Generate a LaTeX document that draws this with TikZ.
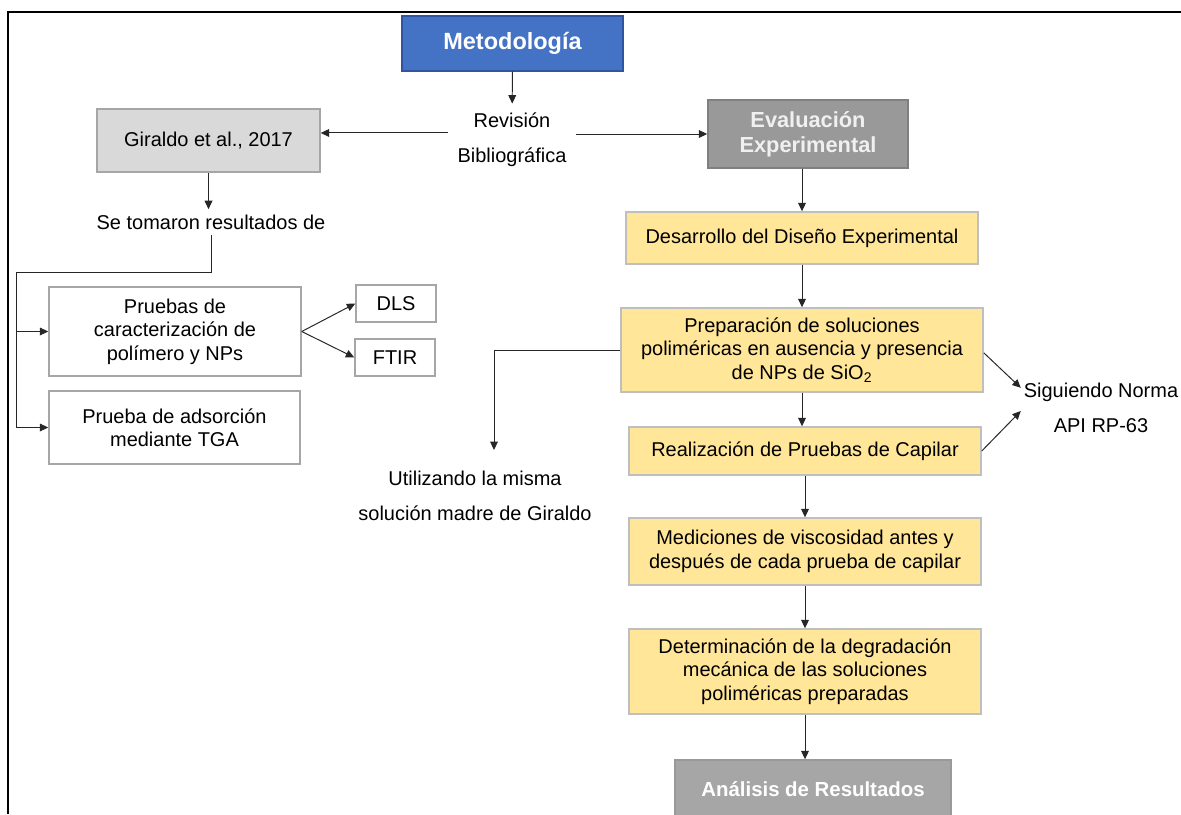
\documentclass[tikz,border=0pt]{standalone}
\usepackage{fontspec}
\setmainfont{Liberation Sans}
\usetikzlibrary{arrows.meta}
\usepackage{xcolor}
\definecolor{metoblue}{HTML}{4472C4}
\definecolor{metoedge}{HTML}{2F55A0}
\definecolor{evalgray}{HTML}{999999}
\definecolor{anagray}{HTML}{A6A6A6}
\definecolor{litegray}{HTML}{D9D9D9}
\definecolor{boxyellow}{HTML}{FFE699}

\begin{document}
\begin{tikzpicture}[x=0.025cm, y=-0.025cm,
    arr/.style={-{Triangle[length=6pt,width=5.5pt]}, line width=0.7pt, black!85},
    ln/.style={line width=0.7pt, black!85},
    box/.style={draw, rectangle, align=center, inner sep=0pt, line width=1pt, font=\fontsize{14.2}{16.7}\selectfont},
    title/.style={box, text=white, font=\bfseries\fontsize{15.5}{17.7}\selectfont},
    lbl/.style={align=center, font=\fontsize{14.2}{24.9}\selectfont}]
            \clip (0,0) rectangle (1181,814);
            \draw[line width=1pt] (1181,12) -- (8,12) -- (8,814);
            % Metodologia: revision bibliografica y evaluacion experimental
            \node[title, fill=metoblue, draw=metoedge, font=\bfseries\fontsize{16.7}{19}\selectfont, minimum width=5.525cm, minimum height=1.375cm] (meto) at (512.5,43.5) {Metodología};
            \node[lbl, inner sep=0.23cm] (rev) at (512,140) {Revisión\\Bibliográfica};
            \node[box, fill=litegray, draw=anagray, minimum width=5.575cm, minimum height=1.575cm] (giraldo) at (208.5,140.5) {Giraldo et al., 2017};
            \node[title, fill=evalgray, draw=black!50, text=white!94!black, minimum width=5cm, minimum height=1.7cm] (eval) at (808,134) {Evaluación\\Experimental};
            \node[lbl, inner sep=0.13cm] (tomaron) at (211,222) {Se tomaron resultados de};
            \coordinate (bus) at (16,272);
            \node[box, draw=anagray, minimum width=6.3cm, minimum height=2.225cm] (pruebas) at (175,331.5) {Pruebas de\\caracterización de\\polímero y NPs};
            \node[box, draw=anagray, minimum width=6.275cm, minimum height=1.825cm] (adsor) at (174.5,427.5) {Prueba de adsorción\\mediante TGA};
            \node[box, draw=anagray, minimum width=2cm, minimum height=0.925cm] (dls) at (396,303.5) {DLS};
            \node[box, draw=anagray, minimum width=2cm, minimum height=0.925cm] (ftir) at (395,357.5) {FTIR};
            \node[box, fill=boxyellow, draw=black!25, minimum width=8.8cm, minimum height=1.3cm] (desarrollo) at (802,238) {Desarrollo del Diseño Experimental};
            \node[box, fill=boxyellow, draw=black!25, minimum width=9.05cm, minimum height=2.1cm] (prep) at (802,350) {Preparación de soluciones\\poliméricas en ausencia y presencia\\de NPs de SiO\textsubscript{2}};
            \node[box, fill=boxyellow, draw=black!25, minimum width=8.8cm, minimum height=1.2cm] (real) at (805,451) {Realización de Pruebas de Capilar};
            \node[box, fill=boxyellow, draw=black!25, minimum width=8.8cm, minimum height=1.675cm] (medi) at (805,551.5) {Mediciones de viscosidad antes y\\después de cada prueba de capilar};
            \node[box, fill=boxyellow, draw=black!25, minimum width=8.8cm, minimum height=2.125cm] (deter) at (805,671.5) {Determinación de la degradación\\mecánica de las soluciones\\poliméricas preparadas};
            \node[title, fill=anagray, draw=black!40, font=\bfseries\fontsize{14.5}{17}\selectfont, minimum width=6.9cm, minimum height=1.45cm] (anal) at (813,789) {Análisis de Resultados};
            \node[lbl, inner sep=2pt] (util) at (475,495.5) {Utilizando la misma\\solución madre de Giraldo};
            \coordinate (utiltop) at (494,450);
            \node[lbl, inner sep=2pt] (norma) at (1101,407.5) {Siguiendo Norma\\API RP-63};

            \draw[arr] (meto) -- (rev);
            \draw[arr] ([yshift=5pt]rev.west) -- ([yshift=5pt]rev.west -| giraldo.east);
            \draw[arr] (eval.west -| rev.east) -- (eval.west);
            \draw[arr] (giraldo.south) -- (giraldo.south |- tomaron.north);
            \draw[ln] (tomaron.south) |- (bus);
            \draw[arr] (bus) |- (adsor.west);
            \draw[arr] (bus |- pruebas.west) -- (pruebas.west);
            \draw[arr] (pruebas.east) -- (dls.west);
            \draw[arr] (pruebas.east) -- (ftir.west);
            \draw[arr] (eval.south -| desarrollo.north) -- (desarrollo.north);
            \draw[arr] (desarrollo) -- (prep);
            \draw[arr] (prep.south) -- (prep.south |- real.north);
            \draw[arr] (real) -- (medi);
            \draw[arr] (medi) -- (deter);
            \draw[arr] (deter.south) -- (deter.south |- anal.north);
            \draw[arr] (prep.west) -| (utiltop);
            \draw[arr] ([yshift=-2pt]prep.east) -- ([yshift=14pt]norma.west);
            \draw[arr] (real.east) -- ([yshift=-2.5pt]norma.west);
        \end{tikzpicture}
\end{document}
